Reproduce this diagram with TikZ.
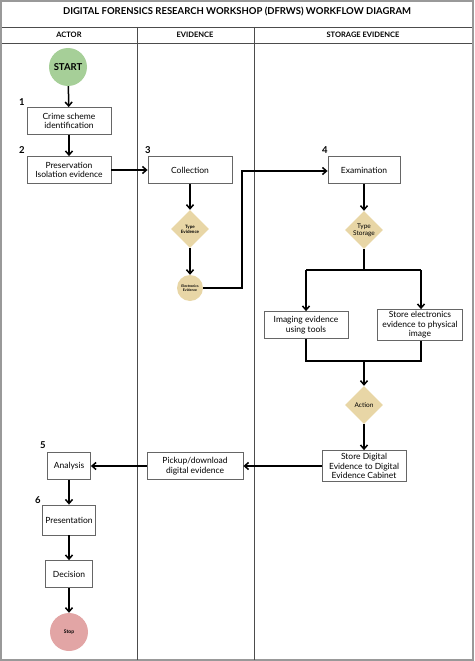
\documentclass[tikz,border=0pt]{standalone}
\usepackage{fontspec}
\setmainfont{Lato}
\usetikzlibrary{shapes.geometric,arrows.meta}
\definecolor{diaC}{HTML}{E8D6A6}
\definecolor{startC}{HTML}{A6CF98}
\definecolor{stopC}{HTML}{E2A5A5}
\begin{document}
\begin{tikzpicture}[x=1pt,y=-1pt,
 box/.style={draw=black!60,line width=0.8pt,fill=white,align=center,font=\fontsize{8.5}{9.5}\selectfont,inner sep=1pt},
 dia/.style={diamond,fill=diaC,minimum width=38,minimum height=38,inner sep=0pt,align=center},
 num/.style={font=\bfseries\fontsize{9.5}{10}\selectfont},
 hd/.style={font=\bfseries\fontsize{7.5}{8}\selectfont},
 arr/.style={-{Straight Barb[length=4pt,width=7pt]},line width=1.5pt}]
\useasboundingbox (0,0) rectangle (474,661);
\draw[black!40,line width=2pt] (1,1) rectangle (473,660);
\draw[black!70,line width=0.8pt] (2,27) -- (472,27) (2,43) -- (472,43) (137,27) -- (137,660) (254,27) -- (254,660);
\node[font=\bfseries\fontsize{9.5}{10}\selectfont] (title) at (237,12) {DIGITAL FORENSICS RESEARCH WORKSHOP (DFRWS) WORKFLOW DIAGRAM};
\node[hd] (h1) at (69,35) {ACTOR};
\node[hd] (h2) at (195,35) {EVIDENCE};
\node[hd] (h3) at (363,35) {STORAGE EVIDENCE};
\node[circle,fill=startC,minimum size=38,inner sep=0pt,font=\bfseries\fontsize{9.5}{10}\selectfont] (start) at (68,67) {START};
\node[box,minimum width=84,minimum height=27] (b1) at (69,121) {Crime scheme\\identification};
\node[box,minimum width=84,minimum height=27] (b2) at (69,170) {Preservation\\Isolation evidence};
\node[box,minimum width=84,minimum height=27] (col) at (190,170) {Collection};
\node[box,minimum width=72,minimum height=27] (exa) at (364,170) {Examination};
\node[num] (n1) at (22,102) {1};
\node[num] (n2) at (22,150) {2};
\node[num] (n3) at (148,150) {3};
\node[num] (n4) at (325,150) {4};
\node[dia,font=\bfseries\fontsize{4.5}{5}\selectfont] (te) at (190,229) {Type\\Evidence};
\node[circle,fill=diaC,minimum size=26,inner sep=0pt,align=center,font=\bfseries\fontsize{3.5}{4}\selectfont] (ee) at (190,288) {Electronics\\Evidence};
\node[dia,font=\fontsize{6.5}{7}\selectfont] (ts) at (364,230) {Type\\Storage};
\node[box,minimum width=84,minimum height=27] (img) at (306,325) {Imaging evidence\\using tools};
\node[box,minimum width=85,minimum height=31] (sep) at (420,325) {Store electronics\\evidence to physical\\image};
\node[dia,font=\fontsize{6.5}{7}\selectfont] (act) at (364,405) {Action};
\node[box,minimum width=84,minimum height=31] (sd) at (364,466) {Store Digital\\Evidence to Digital\\Evidence Cabinet};
\node[box,minimum width=96,minimum height=27] (pk) at (195,466) {Pickup/download\\digital evidence};
\node[box,minimum width=43,minimum height=27] (an) at (69,466) {Analysis};
\node[box,minimum width=53,minimum height=30] (pr) at (69,520) {Presentation};
\node[box,minimum width=47,minimum height=27] (de) at (69,574) {Decision};
\node[num] (n5) at (43,445) {5};
\node[num] (n6) at (38,500) {6};
\node[circle,fill=stopC,minimum size=38,inner sep=0pt,font=\bfseries\fontsize{5}{6}\selectfont] (stop) at (69,632) {Stop};
\draw[arr] (start) -- (b1);
\draw[arr] (b1) -- (b2);
\draw[arr] (b2) -- (col);
\draw[arr] (col) -- (te);
\draw[arr] (te) -- (ee);
\draw[arr] (ee.east) -- (242,288) -- (242,171) -- (exa.west |- 0,171);
\draw[arr] (exa) -- (ts);
\draw[line width=1.5pt] (ts.south) -- (364,270);
\draw[arr] (306,270) -- (img.north);
\draw[arr] (421,270) -- (421,0 |- sep.north);
\draw[line width=1.5pt] (306,270) -- (421,270);
\draw[line width=1.5pt] (img.south) -- (306,361) -- (421,361) -- (421,0 |- sep.south);
\draw[arr] (364,361) -- (act.north);
\draw[arr] (act) -- (sd);
\draw[arr] (sd) -- (pk);
\draw[arr] (pk) -- (an);
\draw[arr] (an) -- (pr);
\draw[arr] (pr) -- (de);
\draw[arr] (de) -- (stop);
\end{tikzpicture}
\end{document}
